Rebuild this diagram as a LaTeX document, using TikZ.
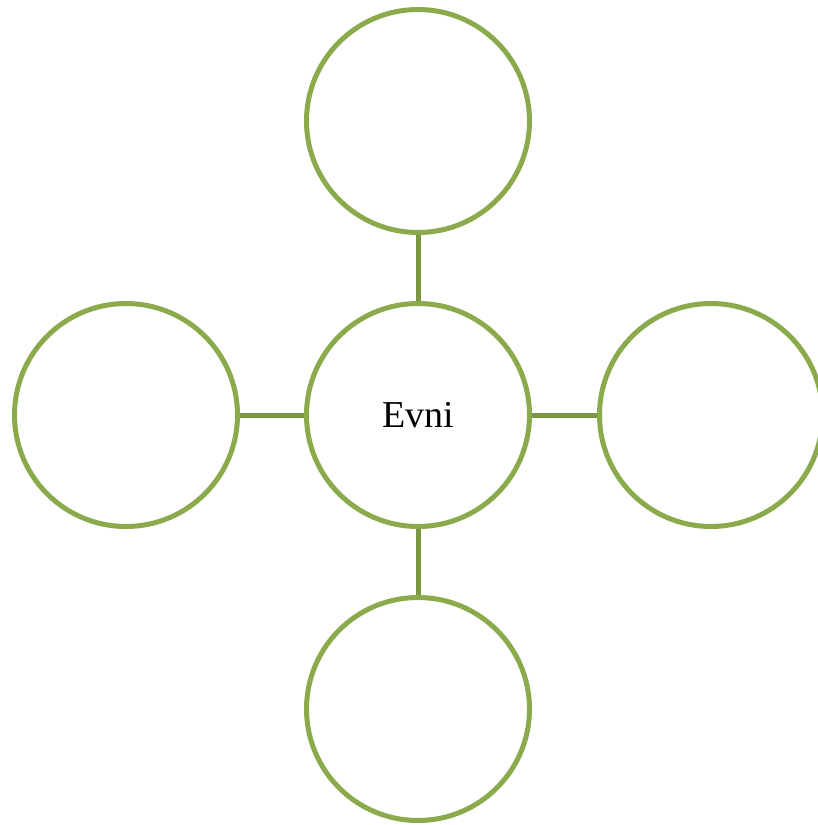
\documentclass[tikz,border=0pt]{standalone}
\usepackage{fontspec}
\setmainfont{Liberation Serif}
\usepackage{tikz}
\definecolor{cgreen}{HTML}{8AAA4B}
\definecolor{cline}{HTML}{7A9640}

\begin{document}
\begin{tikzpicture}[
  x=1pt, y=1pt,
  font=\fontsize{38}{44}\selectfont,
  bubble/.style={circle, draw=cgreen, line width=5pt, minimum size=223pt, inner sep=0pt},
  link/.style={cline, line width=5pt}]
  \clip (0,0) rectangle (818,-825);
  % hub in the middle, four bubbles round it
  \node[bubble] (hub)   at (418,-415) {Evni};
  \node[bubble] (top)   at (418,-121) {};
  \node[bubble] (bot)   at (418,-709) {};
  \node[bubble] (left)  at (126,-415) {};
  \node[bubble] (right) at (711,-415) {};
  \draw[link] (hub) -- (top); \draw[link] (hub) -- (bot);
  \draw[link] (hub) -- (left); \draw[link] (hub) -- (right);
\end{tikzpicture}
\end{document}
